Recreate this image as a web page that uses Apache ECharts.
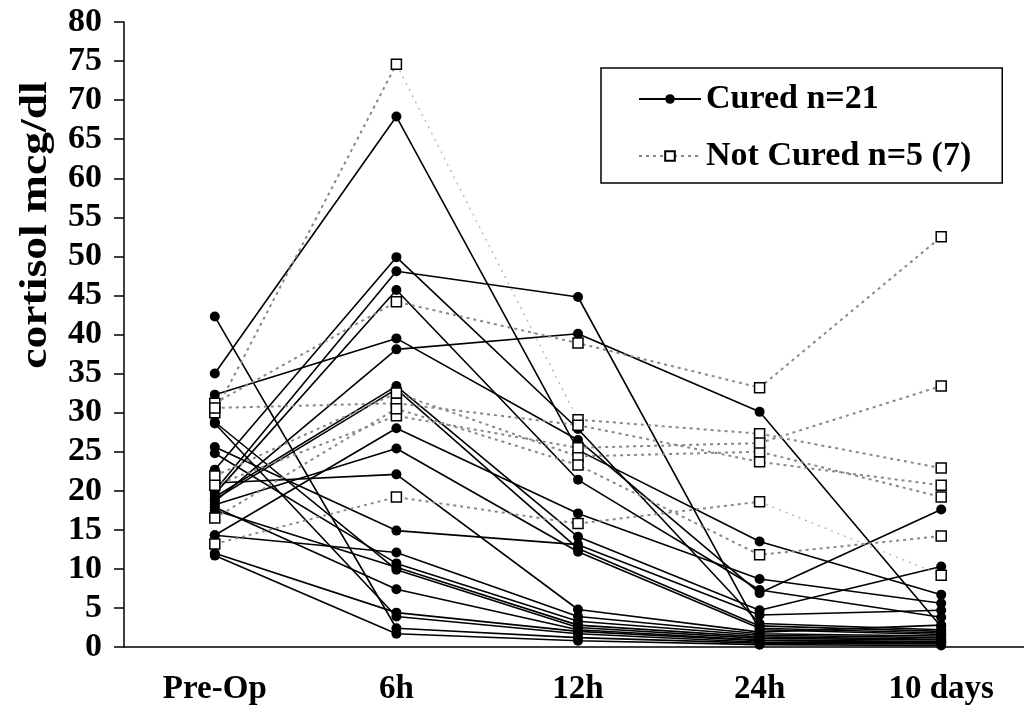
<!DOCTYPE html>
<html>
<head>
<meta charset="utf-8">
<script src="https://cdn.jsdelivr.net/npm/echarts@6/dist/echarts.min.js"></script>
<style>html,body{margin:0;padding:0;background:#fff;}#c{width:1024px;height:719px;}</style>
</head>
<body>
<div id="c"></div>
<script>
var categories = ['Pre-Op', '6h', '12h', '24h', '10 days'];
var curedName = 'Cured n=21';
var notCuredName = 'Not Cured n=5 (7)';
var yAxisTitle = 'cortisol mcg/dl';

// Cured patients: each row is one patient (Pre-Op, 6h, 12h, 24h, 10 days)
var cured = [
  [42.3, 2.4, 1.2, 0.5, 0.4],
  [35.0, 67.9, 25.2, 13.5, 6.7],
  [32.3, 39.5, 26.5, 6.9, 17.6],
  [28.8, 9.9, 2.5, 1.1, 0.9],
  [28.6, 3.9, 1.7, 0.6, 0.5],
  [25.6, 14.9, 13.1, 4.1, 4.7],
  [24.8, 10.7, 3.3, 1.5, 1.2],
  [22.7, 49.9, 27.9, 3.0, 2.2],
  [21.0, 22.1, 4.8, 1.9, 2.8],
  [20.0, 48.1, 44.8, 2.2, 1.6],
  [19.6, 45.7, 21.4, 7.3, 3.8],
  [19.2, 33.4, 14.1, 4.7, 10.3],
  [18.9, 33.0, 12.6, 2.7, 2.0],
  [18.6, 38.1, 40.1, 30.1, 2.6],
  [18.2, 25.4, 12.2, 2.4, 1.8],
  [17.9, 7.4, 2.2, 0.9, 0.7],
  [17.5, 10.2, 2.8, 1.3, 1.0],
  [14.3, 28.0, 17.1, 8.7, 5.6],
  [14.3, 12.1, 3.9, 1.7, 1.4],
  [12.0, 4.4, 2.0, 0.8, 0.6],
  [11.7, 1.7, 0.8, 0.3, 0.2]
];

// Not cured patients
var notCured = [
  [30.0, 74.6, 29.1, 27.3, 22.9],
  [31.2, 44.2, 38.9, 33.2, 52.5],
  [30.6, 31.2, 28.4, 23.7, 20.7],
  [21.9, 32.5, 24.4, 25.0, 19.2],
  [20.7, 29.6, 25.5, 26.1, 33.4],
  [16.5, 30.5, 23.3, 11.8, 14.2],
  [13.2, 19.2, 15.8, 18.6, 9.2]
];
// segments (start index) drawn with the fainter grey in the original
var notCuredLightSegments = [[1], [], [], [], [], [], [3]];

var serif = "'Liberation Serif', 'Times New Roman', serif";
var series = [];
cured.forEach(function (row) {
  series.push({
    name: curedName, type: 'line', data: row,
    symbol: 'circle', symbolSize: 10,
    itemStyle: { color: '#000' },
    lineStyle: { color: '#000', width: 1.6 },
    z: 2
  });
});

function pick(row, a, b) {
  return row.map(function (v, i) { return (i >= a && i <= b) ? v : '-'; });
}
notCured.forEach(function (row, r) {
  var light = notCuredLightSegments[r];
  var start = 0;
  var runs = [];
  for (var s = 0; s < row.length - 1; s++) {
    if (light.indexOf(s) >= 0) { runs.push([start, s]); start = s + 1; }
  }
  runs.push([start, row.length - 1]);
  runs.forEach(function (run) {
    series.push({
      name: notCuredName, type: 'line', data: pick(row, run[0], run[1]),
      symbol: 'rect', symbolSize: 10,
      itemStyle: { color: '#fff', borderColor: '#000', borderWidth: 1.5 },
      lineStyle: { color: '#888', width: 2, type: [3, 4] },
      z: 4
    });
  });
  light.forEach(function (s) {
    series.push({
      name: notCuredName, type: 'line', data: pick(row, s, s + 1),
      showSymbol: false, symbol: 'none',
      lineStyle: { color: '#b4b4b4', width: 1.3, type: [2, 5] },
      z: 3
    });
  });
});

var chart = echarts.init(document.getElementById('c'));
chart.setOption({
  animation: false,
  backgroundColor: '#fff',
  grid: { left: 124, top: 22, right: -8, height: 625, containLabel: false, outerBoundsMode: 'none' },
  xAxis: {
    type: 'category', data: categories, boundaryGap: true,
    axisLine: { lineStyle: { color: '#000', width: 1.5 } },
    axisTick: { length: 11, lineStyle: { color: '#000', width: 1.5 } },
    axisLabel: { color: '#000', fontFamily: serif, fontWeight: 'bold', fontSize: 33, margin: 26 },
    splitLine: { show: false }
  },
  yAxis: {
    type: 'value', min: 0, max: 80, interval: 5,
    axisLine: { show: true, lineStyle: { color: '#000', width: 1.5 } },
    axisTick: { show: true, length: 10, lineStyle: { color: '#000', width: 1.5 } },
    axisLabel: { color: '#000', fontFamily: serif, fontWeight: 'bold', fontSize: 34, margin: 22 },
    splitLine: { show: false }
  },
  legend: {
    data: [curedName, notCuredName],
    orient: 'vertical', left: 601, top: 68,
    borderColor: '#000', borderWidth: 1.5,
    padding: [14, 31, 10, 37],
    itemGap: 23, itemWidth: 62, itemHeight: 12,
    textStyle: { color: '#000', fontFamily: serif, fontWeight: 'bold', fontSize: 34 }
  },
  graphic: [{
    type: 'text',
    x: 36, y: 225,
    rotation: Math.PI / 2,
    scaleX: 1.2,
    style: { text: yAxisTitle, fill: '#000', font: 'bold 38px ' + serif, textAlign: 'center', textVerticalAlign: 'middle' }
  }],
  series: series
});
</script>
</body>
</html>
